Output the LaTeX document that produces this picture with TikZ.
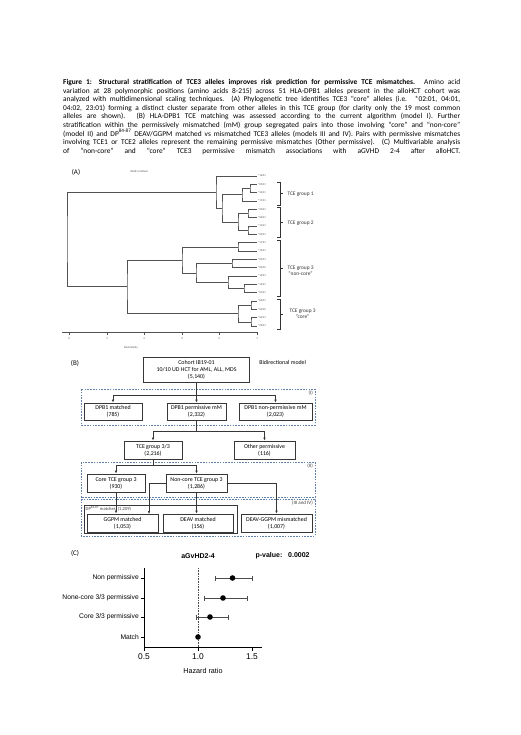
\documentclass[tikz,border=0pt]{standalone}
\usepackage{fontspec}
\setmainfont{Carlito}
\newfontfamily\arialfont{Liberation Sans}
\usetikzlibrary{arrows.meta,calc,positioning}

\definecolor{dashblue}{RGB}{95,128,170}
\definecolor{boxgray}{RGB}{55,55,55}

\tikzset{
  box/.style={draw=boxgray, line width=0.8pt, align=center, inner sep=1pt, font=\fontsize{5.9}{7}\selectfont},
  dashbox/.style={draw=dashblue, line width=0.6pt, dash pattern=on 1.6pt off 1.2pt},
  arr/.style={draw=boxgray, line width=0.8pt, -{Latex[length=3pt,width=2.6pt]}},
  link/.style={draw=boxgray, line width=0.8pt},
  tree/.style={draw=black!68, line width=0.6pt},
  leaf/.style={font=\fontsize{2.8}{3}\selectfont, inner sep=0.8pt, anchor=west, text=black!70},
  grp/.style={font=\fontsize{5.4}{6.4}\selectfont, align=center, text=black!80},
  panel/.style={font=\fontsize{7}{8}\selectfont},
  tag/.style={font=\fontsize{5}{6}\selectfont, text=black!75, inner sep=1pt},
  hrlab/.style={font=\arialfont\fontsize{6.7}{8}\selectfont, anchor=east, inner sep=1pt},
  ci/.style={draw=black!70, line width=0.9pt},
  pt/.style={fill=black, circle, inner sep=0pt, minimum size=5.6pt}
}

\begin{document}
\begin{tikzpicture}[x=1pt, y=-1pt]
  \useasboundingbox (0,0) rectangle (520,735);
  \fill[white] (0,0) rectangle (520,735);

  % caption
  \node[anchor=north west, inner sep=0pt, text width=397pt, align=justify,
        font=\fontsize{7.4}{8.6}\selectfont] (caption) at (63,79)
  {\parfillskip=0pt \textbf{Figure 1: Structural stratification of TCE3 alleles improves risk prediction for permissive TCE mismatches.} Amino acid\linebreak
  variation at 28 polymorphic positions (amino acids 8-215) across 51 HLA-DPB1 alleles present in the alloHCT cohort was\linebreak
  analyzed with multidimensional scaling techniques.\ \ (A) Phylogenetic tree identifies TCE3 “core” alleles (i.e. *02:01, 04:01,\linebreak
  04:02, 23:01) forming a distinct cluster separate from other alleles in this TCE group (for clarity only the 19 most common\linebreak
  alleles are shown). (B) HLA-DPB1 TCE matching was assessed according to the current algorithm (model I). Further\linebreak
  stratification within the permissively mismatched (mM) group segregated pairs into those involving “core” and “non-core”\linebreak
  (model II) and DP\smash{\textsuperscript{84-87}} DEAV/GGPM matched vs mismatched TCE3 alleles (models III and IV). Pairs with permissive mismatches\linebreak
  involving TCE1 or TCE2 alleles represent the remaining permissive mismatches (Other permissive). (C) Multivariable analysis\linebreak
  of “non-core” and “core” TCE3 permissive mismatch associations with aGVHD 2-4 after alloHCT.\par};

  % (A) tree
  \node[panel] (pA) at (76,172) {(A)};
  \node[leaf, anchor=center] (treetitle) at (139,172) {Ward's method};
  \foreach \lab [count=\i from 0] in {16:01,09:01,10:01,17:01,20:01,06:01,14:01,03:01,11:01,15:01,05:01,02:02,19:01,13:01,01:01,02:01,04:02,04:01,23:01}
  {
    \coordinate (l\i) at (257,{176+8.33*\i});
    \node[leaf] (a\i) at (l\i) {*\lab};
  }
  \coordinate (n12) at (250,188.5);
  \coordinate (n123) at (242,194.8);
  \coordinate (n45) at (248,213.5);
  \coordinate (n67) at (248,230.2);
  \coordinate (n47) at (238,221.8);
  \coordinate (g12) at (222,208.3);
  \coordinate (top) at (216,192.2);
  \coordinate (n89) at (238,246.8);
  \coordinate (n1011) at (232,263.5);
  \coordinate (n1314) at (244,288.5);
  \coordinate (n1214) at (228,282.2);
  \coordinate (n1014) at (196,272.9);
  \coordinate (nc) at (182,259.8);
  \coordinate (n1516) at (251,305.1);
  \coordinate (n1718) at (251,321.8);
  \coordinate (cr) at (238,313.5);
  \coordinate (bot) at (127,286.6);
  \coordinate (root) at (67,239.4);
  \draw[tree] (l1) -| (n12) |- (l2);
  \draw[tree] (n12) -| (n123) |- (l3);
  \draw[tree] (l4) -| (n45) |- (l5);
  \draw[tree] (l6) -| (n67) |- (l7);
  \draw[tree] (n45) -| (n47) |- (n67);
  \draw[tree] (n123) -| (g12) |- (n47);
  \draw[tree] (l0) -| (top) |- (g12);
  \draw[tree] (l8) -| (n89) |- (l9);
  \draw[tree] (l10) -| (n1011) |- (l11);
  \draw[tree] (l13) -| (n1314) |- (l14);
  \draw[tree] (l12) -| (n1214) |- (n1314);
  \draw[tree] (n1011) -| (n1014) |- (n1214);
  \draw[tree] (n89) -| (nc) |- (n1014);
  \draw[tree] (l15) -| (n1516) |- (l16);
  \draw[tree] (l17) -| (n1718) |- (l18);
  \draw[tree] (n1516) -| (cr) |- (n1718);
  \draw[tree] (nc) -| (bot) |- (cr);
  \draw[tree] (top) -| (root) |- (bot);

  % brackets
  \draw[black!80, line width=0.6pt] (277,182) -- (280,182) -- (280,205) -- (277,205) (280,193.5) -- (283,193.5);
  \draw[black!80, line width=0.6pt] (277,207) -- (280,207) -- (280,237) -- (277,237) (280,222) -- (283,222);
  \draw[black!80, line width=0.6pt] (277,240) -- (280,240) -- (280,296) -- (277,296) (280,268) -- (283,268);
  \draw[black!80, line width=0.6pt] (277,299) -- (280,299) -- (280,329) -- (277,329) (280,314) -- (283,314);
  \node[grp, anchor=west] (g1lab) at (284,194.5) {TCE group 1};
  \node[grp, anchor=west] (g2lab) at (284,223) {TCE group 2};
  \node[grp, anchor=west] (nclab) at (284,271) {TCE group 3\\“non-core”};
  \node[grp, anchor=west] (crlab) at (286,314) {TCE group 3\\“core”};

  % tree axis
  \draw[tree] (62,332) -- (257,332);
  \foreach \x/\t in {69/6,107/5,144/4,182/3,219/2,257/1}
  {
    \draw[tree] (\x,332) -- (\x,335);
    \node[leaf, anchor=center] at (\x,339) {\t};
  }
  \node[leaf, anchor=center] (axtitle) at (131,348) {Dissimilarity};

  % (B) flow chart
  \node[panel] (pB) at (75,363) {(B)};
  \draw[dashbox] (81,389) rectangle (315,425);
  \draw[dashbox] (81,462) rectangle (315,497);
  \draw[dashbox] (81,499) rectangle (315,536);
  \node[tag, anchor=north east] (m1) at (314,390) {(I)};
  \node[tag, anchor=north east] (m2) at (314,463) {(II)};
  \node[tag, anchor=north east] (m3) at (314,500) {(III and IV)};

  \node[box, minimum width=106pt, minimum height=25pt] (cohort) at (196.5,369.5) {Cohort IB19-01\\10/10 UD HCT for AML, ALL, MDS\\(5,140)};
  \node[box, draw=none, anchor=west] (bidir) at (258,362) {Bidirectional model};

  \node[box, minimum width=58pt, minimum height=17pt] (matched) at (113,411.5) {DPB1 matched\\(785)};
  \node[box, minimum width=59pt, minimum height=17pt] (perm) at (196.5,411.5) {DPB1 permissive mM\\(2,332)};
  \node[box, minimum width=73pt, minimum height=17pt] (nonperm) at (275.5,411.5) {DPB1 non-permissive mM\\(2,023)};

  \node[box, minimum width=58pt, minimum height=18pt] (tce33) at (153,450) {TCE group 3/3\\(2,216)};
  \node[box, minimum width=61pt, minimum height=18pt] (other) at (264.5,450) {Other permissive\\(116)};

  \node[box, minimum width=58pt, minimum height=18pt] (core) at (116,483) {Core TCE group 3\\(930)};
  \node[box, minimum width=61pt, minimum height=18pt] (noncore) at (196.5,483) {Non-core TCE group 3\\(1,286)};

  \node[box, minimum width=153pt, minimum height=28pt] (dpm) at (160.5,519) {};
  \node[tag, anchor=west, font=\fontsize{4.6}{5}\selectfont] (dplab) at (84.5,509) {DP\textsuperscript{84-87} matches\ \ (1,209)};
  \node[box, minimum width=71pt, minimum height=18pt] (ggpm) at (122.5,523) {GGPM matched\\(1,053)};
  \node[box, minimum width=70pt, minimum height=18pt] (deav) at (198,523) {DEAV matched\\(156)};
  \node[box, minimum width=71pt, minimum height=18pt] (mism) at (276.5,523) {DEAV-GGPM mismatched\\(1,007)};

  \coordinate (j1) at (196.5,395);
  \coordinate (j2) at (196.5,431);
  \coordinate (j3) at (153,465);
  \coordinate (ggin) at (149,514);
  \draw[link] (cohort.south) -- (j1);
  \draw[arr] (j1) -| (matched.north);
  \draw[arr] (j1) -- (j1 |- perm.north);
  \draw[arr] (j1) -| (nonperm.north);
  \draw[link] (perm.south) -- (j2);
  \draw[arr] (j2) -| (tce33.north);
  \draw[arr] (j2) -| (other.north);
  \draw[link] (tce33.south) -- (j3);
  \draw[arr] (j3) -| (core.north);
  \draw[arr] (j3) -| (noncore.north);
  \draw[arr] (core.south) -- (core.south |- ggpm.north);
  \draw[arr] (noncore.west) -| (ggin);
  \draw[arr] (noncore.south) -- (noncore.south |- deav.north);
  \draw[arr] (noncore.east) -| (mism.north);

  % (C) forest plot
  \node[panel] (pC) at (75,553) {(C)};
  \node[font=\arialfont\bfseries\fontsize{7}{8}\selectfont] (ctitle) at (198,556) {aGvHD2-4};
  \node[font=\arialfont\bfseries\fontsize{7}{8}\selectfont, anchor=west] (pval) at (252,556) {p-value:\ \ \ 0.0002};

  \draw[black!70, densely dotted, line width=0.6pt] (198,568) -- (198,647);
  \draw[black, line width=1pt] (144,568) -- (144,647) -- (262,647);
  \foreach \x/\t in {144/0.5,198/1.0,252/1.5}
  {
    \draw[black, line width=1pt] (\x,647) -- (\x,651);
    \node[font=\arialfont\fontsize{8.4}{9}\selectfont] at (\x,657) {\t};
  }
  \foreach \y in {578,598,617,637}
    \draw[black, line width=1pt] (140.5,\y) -- (144,\y);
  \node[hrlab] (r1) at (140,578) {Non permissive};
  \node[hrlab] (r2) at (140,598) {None-core 3/3 permissive};
  \node[hrlab] (r3) at (140,617) {Core 3/3 permissive};
  \node[hrlab] (r4) at (140,637) {Match};
  \node[font=\arialfont\fontsize{7.2}{8}\selectfont] (xlab) at (203,671) {Hazard ratio};

  \draw[ci] (215,578) -- (252,578) (215,575.5) -- (215,580.5) (252,575.5) -- (252,580.5);
  \draw[ci] (204,598) -- (247,598) (204,595.5) -- (204,600.5) (247,595.5) -- (247,600.5);
  \draw[ci] (196,617) -- (228,617) (196,614.5) -- (196,619.5) (228,614.5) -- (228,619.5);
  \node[pt] (p1) at (232.5,578) {};
  \node[pt] (p2) at (223,598) {};
  \node[pt] (p3) at (210,617) {};
  \node[pt] (p4) at (198,637) {};
\end{tikzpicture}
\end{document}
